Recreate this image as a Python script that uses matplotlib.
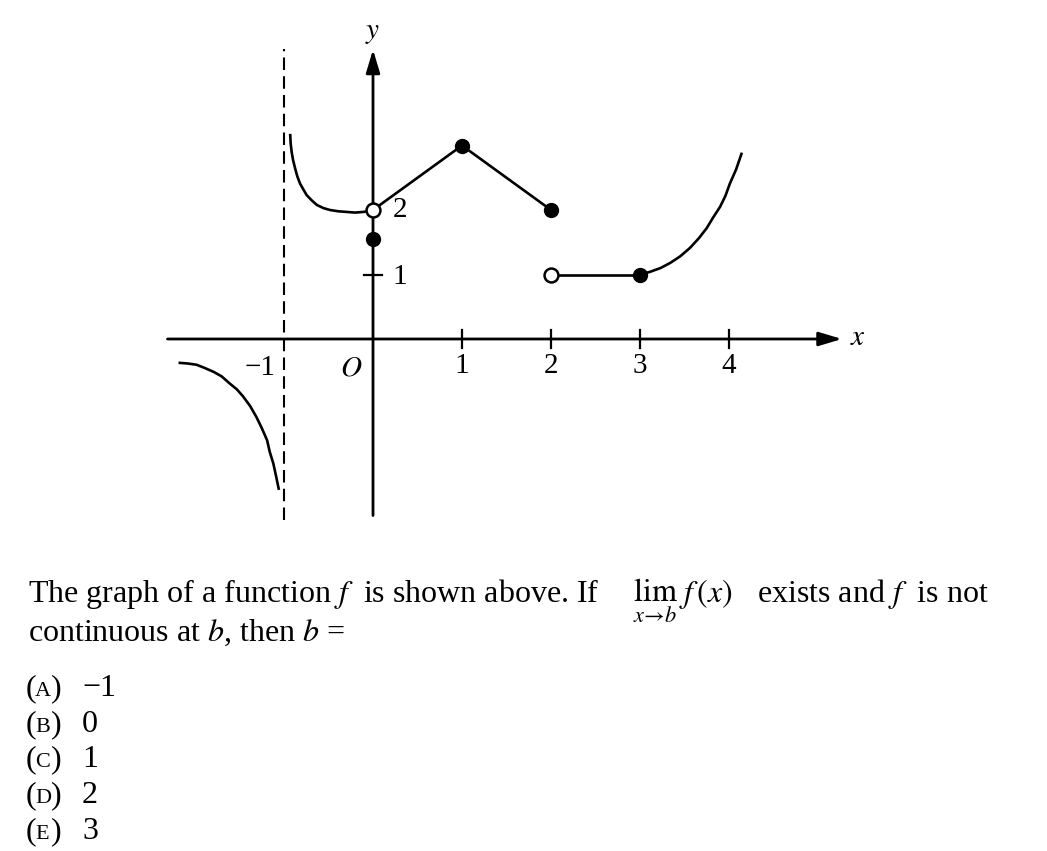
import matplotlib.pyplot as plt

plt.rcParams['font.family'] = ['Liberation Serif', 'DejaVu Serif']
plt.rcParams['mathtext.fontset'] = 'stix'

# pieces of the graph
left_x = [-2.17, -2.08, -1.98, -1.89, -1.79, -1.70, -1.61, -1.53, -1.46, -1.38,
          -1.31, -1.25, -1.19, -1.16, -1.12, -1.09, -1.06]
left_y = [-0.37, -0.38, -0.40, -0.45, -0.51, -0.58, -0.69, -0.78, -0.89, -1.04,
          -1.21, -1.38, -1.57, -1.75, -1.93, -2.12, -2.32]
mid_x = [-0.93, -0.925, -0.914, -0.899, -0.876, -0.850, -0.820, -0.783, -0.745,
         -0.689, -0.633, -0.558, -0.483, -0.390, -0.296, -0.202, -0.109, -0.064, 0.0]
mid_y = [3.16, 3.03, 2.90, 2.78, 2.65, 2.52, 2.41, 2.32, 2.23,
         2.15, 2.08, 2.03, 2.00, 1.98, 1.97, 1.96, 1.97, 1.98, 2.0]
zig_x = [0, 1, 2]
zig_y = [2, 3, 2]
flat_x = [2, 3]
flat_y = [1, 1]
right_x = [3.0, 3.11, 3.23, 3.34, 3.45, 3.56, 3.66, 3.75, 3.82, 3.90, 3.96, 4.01, 4.08, 4.14]
right_y = [1.0, 1.04, 1.10, 1.18, 1.28, 1.41, 1.56, 1.72, 1.88, 2.05, 2.22, 2.41, 2.63, 2.87]
filled_x = [0, 1, 2, 3]
filled_y = [1.55, 3, 2, 1]
open_x = [0, 2]
open_y = [2, 1]
xticks = [1, 2, 3, 4]
yticks = [1]

# question text in chunks, with the left edge (px) where each sits
line1 = [('The graph of a function $f$  is shown above. If', 28),
         (r'$\lim_{x\to b}$', 633), (r'$f\,(x)$', 679), ('exists and $f$  is not', 757)]
line2 = [('continuous at $b$, then $b$ =', 28)]
letters = ['A', 'B', 'C', 'D', 'E']
answers = ['\u22121', '0', '1', '2', '3']

W, H = 1047, 851
fig = plt.figure(figsize=(W / 100, H / 100), dpi=100)

# axes placed so that x=0 -> 373px, 1 unit = 89px ; y=0 -> 339px, 1 unit = 64.5px
x0, y0 = -2.4, -2.9
x1, y1 = 5.6, 4.8
left = (373 + 89 * x0) / W
width = 89 * (x1 - x0) / W
bottom = 1 - (339 - 64.5 * y0) / H
height = 64.5 * (y1 - y0) / H
ax = fig.add_axes([left, bottom, width, height])
ax.set_xlim(x0, x1)
ax.set_ylim(y0, y1)
ax.axis('off')

lw = 1.9
ax.annotate('', xy=(5.3, 0), xytext=(-2.34, 0),
            arrowprops=dict(arrowstyle='-|>,head_length=1.0,head_width=0.3',
                            lw=2.0, color='black', mutation_scale=14))
ax.annotate('', xy=(0, 4.53), xytext=(0, -2.78),
            arrowprops=dict(arrowstyle='-|>,head_length=1.0,head_width=0.3',
                            lw=2.0, color='black', mutation_scale=14))
ax.plot([-1, -1], [-2.8, 4.5], color='black', lw=1.5, ls=(0, (6, 3)))

for t in xticks:
    ax.plot([t, t], [-0.14, 0.14], color='black', lw=1.6)
for t in yticks:
    ax.plot([-0.1, 0.1], [t, t], color='black', lw=1.6)

ax.plot(left_x, left_y, color='black', lw=lw)
ax.plot(mid_x, mid_y, color='black', lw=lw)
ax.plot(zig_x, zig_y, color='black', lw=lw)
ax.plot(flat_x, flat_y, color='black', lw=lw)
ax.plot(right_x, right_y, color='black', lw=lw)
ax.plot(filled_x, filled_y, 'o', color='black', ms=10, zorder=5)
ax.plot(open_x, open_y, 'o', mfc='white', mec='black', mew=1.8, ms=10, zorder=5)

fs = 21
for t in xticks:
    ax.text(t, -0.42, str(t), ha='center', va='center', fontsize=fs)
ax.text(-1.27, -0.45, '\u22121', ha='center', va='center', fontsize=fs)
ax.text(-0.24, -0.45, '$O$', ha='center', va='center', fontsize=fs)
ax.text(0.3, 2.0, '2', ha='center', va='center', fontsize=fs)
ax.text(0.3, 0.96, '1', ha='center', va='center', fontsize=fs)
ax.text(0, 4.75, '$y$', ha='center', va='center', fontsize=fs)
ax.text(5.45, 0.02, '$x$', ha='center', va='center', fontsize=fs)


def px(x, y):
    return x / W, 1 - y / H


tfs = 23
for chunk, xp in line1:
    fig.text(*px(xp, 602), chunk, fontsize=tfs, va='baseline', ha='left')
for chunk, xp in line2:
    fig.text(*px(xp, 641), chunk, fontsize=tfs, va='baseline', ha='left')

rows = [696, 732, 767, 803, 839]
for L, a, r in zip(letters, answers, rows):
    fig.text(*px(26, r), '(', fontsize=tfs, va='baseline')
    fig.text(*px(35, r), L, fontsize=16, va='baseline')
    fig.text(*px(51, r), ')', fontsize=tfs, va='baseline')
    fig.text(*px(82, r), a, fontsize=tfs, va='baseline')

fig.savefig('out.png', dpi=100)
